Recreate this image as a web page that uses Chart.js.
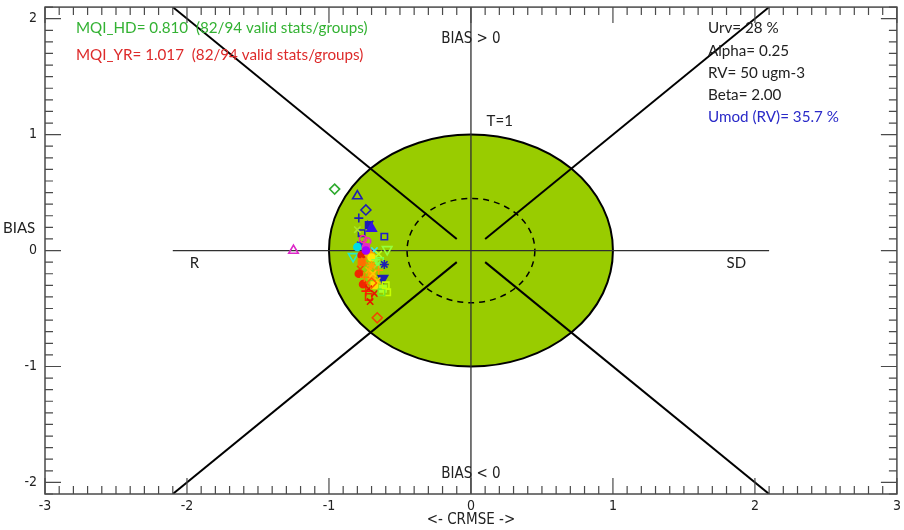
<!DOCTYPE html>
<html>
<head>
<meta charset="utf-8">
<script src="https://cdn.jsdelivr.net/npm/chart.js@4.4.1/dist/chart.umd.min.js"></script>
<style>
  html, body { margin: 0; padding: 0; background: #ffffff; }
  #wrap { width: 904px; height: 530px; }
</style>
</head>
<body>
<div id="wrap"><canvas id="target"></canvas></div>
<script>
// Axis tick labels
const xTickValues = [-3, -2, -1, 0, 1, 2, 3];
const yTickValues = [-2, -1, 0, 1, 2];

// Normalised CRMSE (x) and BIAS (y) per station
const crmse = [-0.96, -0.80, -0.74, -0.79, -0.72, -0.71, -0.77, -0.61, -0.80, -0.73,
               -0.78, -0.80, -0.73, -0.74, -0.83, -0.59, -0.68, -0.77, -0.71, -0.64,
               -0.66, -0.61, -0.78, -0.72, -0.70, -0.62, -0.66, -0.68, -0.76, -0.72,
               -0.62, -0.59, -0.72, -0.68, -0.66, -1.25, -0.75, -0.70, -0.65, -0.79,
               -0.63, -0.75, -0.69, -0.76, -0.70, -0.74, -0.70, -0.67, -0.65, -0.74,
               -0.70, -0.60, -0.71, -0.77];
const bias  = [ 0.53,  0.47,  0.35,  0.28,  0.22,  0.23,  0.15,  0.12,  0.18,  0.08,
                0.05,  0.03, -0.01,  0.03, -0.05,  0.01,  0.00, -0.04, -0.04, -0.09,
               -0.12, -0.12, -0.16, -0.17, -0.22, -0.24, -0.26, -0.30, -0.29, -0.33,
               -0.33, -0.36, -0.40, -0.37, -0.58,  0.00, -0.09, -0.06, -0.17, -0.20,
               -0.36, -0.23, -0.20,  0.10,  0.19,  0.00, -0.13, -0.08, -0.03, -0.35,
               -0.28, -0.30, -0.44, -0.10];

// Marker colour and symbol per station (symbol: d diamond, t triangle, v triangle down,
// s square, + plus, x cross, * asterisk, o circle; upper case = filled)
const markerColour = ['#2eaa2e', '#1e1eb4', '#1e1eb4', '#1e1eb4', '#1e1eb4', '#1e1eb4', '#1e1eb4', '#2020c8', '#aae628', '#e628c8',
                      '#1e28e6', '#00dce6', '#8c00dc', '#e628c8', '#28e6c8', '#96ff3c', '#3ce6e6', '#e61e00', '#ffa000', '#78ff50',
                      '#78ff50', '#1e1eb4', '#f04600', '#ffaa00', '#ffa000', '#1e1eb4', '#ffbe00', '#ffdc00', '#f02800', '#e61400',
                      '#aaff28', '#c8ff00', '#e63200', '#e61400', '#f04600', '#dc28c8', '#ff8200', '#ffe600', '#ff9600', '#f02800',
                      '#78e628', '#ff7800', '#ffc800', '#ff28a0', '#3214e6', '#a000ff', '#ffa000', '#8cff3c', '#beff1e', '#ff1e00',
                      '#ff5a00', '#c8ff00', '#e61400', '#ff6e00'];
const markerSymbol = ['d', 't', 'd', '+', 'S', 'x', 's', 's', 'x', 'o',
                      '*', 'O', 'd', 'O', 'v', 'v', 'x', 'O', 'D', 's',
                      'x', '*', 'x', 'x', 'S', 'V', 'x', 'S', 'O', 'x',
                      'S', 's', 's', 'x', 'd', 't', 'x', 'O', '+', 'O',
                      's', '+', 'x', 'o', 'T', 'O', '*', '+', 'x', '+',
                      'd', 's', 'x', 'S'];

// Target geometry (normalised units)
const targetRadius = 1.0;
const innerRadius = 0.45;
const axisHalfLength = 2.1;
const diagonalInner = 0.1;
const diagonalOuter = 2.1;

const symbolStyle = { d: 'rectRot', t: 'triangle', v: 'triangle', s: 'rect', '+': 'cross', x: 'crossRot', '*': 'star', o: 'circle' };
const symbolRadius = { d: 5, t: 5.5, v: 5.5, s: 4.5, '+': 4.5, x: 4.5, '*': 4.5, o: 3.5 };

const points = crmse.map((x, i) => ({ x: x, y: bias[i] }));
const sym = markerSymbol.map(s => s.toLowerCase());
const filled = markerSymbol.map(s => s !== s.toLowerCase());

function segment(x0, y0, x1, y1) {
  return {
    type: 'line',
    data: [{ x: x0, y: y0 }, { x: x1, y: y1 }],
    borderColor: '#000000',
    borderWidth: 2,
    pointRadius: 0,
    fill: false,
    order: 2
  };
}
function axisLine(x0, y0, x1, y1) {
  const d = segment(x0, y0, x1, y1);
  d.borderColor = '#303030';
  d.borderWidth = 1.3;
  return d;
}

const datasets = [
  {
    type: 'scatter',
    label: 'stations',
    data: points,
    pointStyle: sym.map(s => symbolStyle[s]),
    rotation: sym.map(s => s === 'v' ? 180 : 0),
    radius: sym.map(s => symbolRadius[s]),
    borderColor: markerColour,
    backgroundColor: markerColour.map((c, i) => filled[i] ? c : 'rgba(0,0,0,0)'),
    borderWidth: 1.6,
    order: 0
  },
  axisLine(-axisHalfLength, 0, axisHalfLength, 0),
  axisLine(0, -axisHalfLength, 0, axisHalfLength),
  segment(-diagonalOuter, diagonalOuter, -diagonalInner, diagonalInner),
  segment(diagonalOuter, diagonalOuter, diagonalInner, diagonalInner),
  segment(-diagonalOuter, -diagonalOuter, -diagonalInner, -diagonalInner),
  segment(diagonalOuter, -diagonalOuter, diagonalInner, -diagonalInner)
];

const narrowFont = "'Liberation Sans Narrow', 'DejaVu Sans Condensed', 'Liberation Sans', sans-serif";
const textFont = "Lato, 'Open Sans', sans-serif";

// Green acceptance area and dashed inner circle, drawn under the lines
const targetArea = {
  id: 'targetArea',
  beforeDatasetsDraw(chart) {
    const { ctx, scales: { x, y } } = chart;
    const cx = x.getPixelForValue(0), cy = y.getPixelForValue(0);
    const rx = x.getPixelForValue(targetRadius) - cx;
    const ry = cy - y.getPixelForValue(targetRadius);
    ctx.save();
    ctx.beginPath();
    ctx.ellipse(cx, cy, rx, ry, 0, 0, Math.PI * 2);
    ctx.fillStyle = '#99cc00';
    ctx.fill();
    ctx.lineWidth = 2;
    ctx.strokeStyle = '#000000';
    ctx.stroke();
    const irx = x.getPixelForValue(innerRadius) - cx;
    const iry = cy - y.getPixelForValue(innerRadius);
    ctx.beginPath();
    ctx.ellipse(cx, cy, irx, iry, 0, 0, Math.PI * 2);
    ctx.setLineDash([6, 5]);
    ctx.lineWidth = 1.5;
    ctx.stroke();
    ctx.restore();
  }
};

// Frame with inward major/minor ticks and the annotation texts
const frameAndText = {
  id: 'frameAndText',
  afterDraw(chart) {
    const { ctx, chartArea: a, scales: { x, y } } = chart;
    ctx.save();
    ctx.strokeStyle = '#4a4a4a';
    ctx.lineWidth = 1.5;
    ctx.strokeRect(a.left, a.top, a.right - a.left, a.bottom - a.top);
    ctx.lineWidth = 1.2;
    ctx.beginPath();
    for (let k = -30; k <= 30; k++) {
      const px = x.getPixelForValue(k / 10);
      const len = (k % 10 === 0) ? 16 : 8;
      ctx.moveTo(px, a.bottom); ctx.lineTo(px, a.bottom - len);
      ctx.moveTo(px, a.top); ctx.lineTo(px, a.top + len);
    }
    for (let k = -21; k <= 21; k++) {
      const py = y.getPixelForValue(k / 10);
      const len = (k % 10 === 0) ? 16 : 8;
      ctx.moveTo(a.left, py); ctx.lineTo(a.left + len, py);
      ctx.moveTo(a.right, py); ctx.lineTo(a.right - len, py);
    }
    ctx.stroke();

    ctx.textBaseline = 'middle';
    ctx.fillStyle = '#222222';
    ctx.font = '15px ' + narrowFont;
    ctx.textAlign = 'center';
    ctx.fillText('BIAS > 0', x.getPixelForValue(0), y.getPixelForValue(1.82));
    ctx.fillText('BIAS < 0', x.getPixelForValue(0), y.getPixelForValue(-1.93));
    ctx.fillText('<- CRMSE ->', x.getPixelForValue(0), 520);
    ctx.textAlign = 'left';
    ctx.font = '15px ' + textFont;
    ctx.fillText('T=1', x.getPixelForValue(0.11), y.getPixelForValue(1.12));
    ctx.fillText('R', x.getPixelForValue(-1.98), y.getPixelForValue(-0.11));
    ctx.fillText('SD', x.getPixelForValue(1.8), y.getPixelForValue(-0.11));
    ctx.fillText('BIAS', 3, 228);

    ctx.font = '15.2px ' + textFont;
    ctx.fillStyle = '#33b233';
    ctx.fillText('MQI_HD= 0.810  (82/94 valid stats/groups)', 76, 28);
    ctx.fillStyle = '#dd2a2a';
    ctx.fillText('MQI_YR= 1.017  (82/94 valid stats/groups)', 76, 55);

    ctx.fillStyle = '#222222';
    ctx.fillText('Urv= 28 %', 708, 28);
    ctx.fillText('Alpha= 0.25', 708, 51);
    ctx.fillText('RV= 50 ugm-3', 708, 73);
    ctx.fillText('Beta= 2.00', 708, 95);
    ctx.fillStyle = '#2a2ac8';
    ctx.fillText('Umod (RV)= 35.7 %', 708, 117);
    ctx.restore();
  }
};

new Chart(document.getElementById('target'), {
  type: 'scatter',
  data: { datasets: datasets },
  options: {
    responsive: true,
    maintainAspectRatio: false,
    animation: false,
    layout: { padding: { top: 6, right: 4, left: 0, bottom: 0 } },
    plugins: { legend: { display: false }, tooltip: { enabled: false } },
    scales: {
      x: {
        type: 'linear', min: -3, max: 3,
        grid: { display: false, drawTicks: false },
        border: { display: false },
        ticks: { color: '#222222', padding: 4, maxRotation: 0, autoSkip: false,
                 font: { family: narrowFont, size: 14 } },
        afterBuildTicks(s) { s.ticks = xTickValues.map(v => ({ value: v })); },
        afterFit(s) { s.height = 36; s.paddingLeft = 0; s.paddingRight = 0; }
      },
      y: {
        type: 'linear', min: -2.1, max: 2.1,
        grid: { display: false, drawTicks: false },
        border: { display: false },
        ticks: { color: '#222222', padding: 8, autoSkip: false,
                 font: { family: narrowFont, size: 14 } },
        afterBuildTicks(s) { s.ticks = yTickValues.map(v => ({ value: v })); },
        afterFit(s) { s.width = 45; s.paddingTop = 0; s.paddingBottom = 0; }
      }
    }
  },
  plugins: [targetArea, frameAndText]
});
</script>
</body>
</html>
